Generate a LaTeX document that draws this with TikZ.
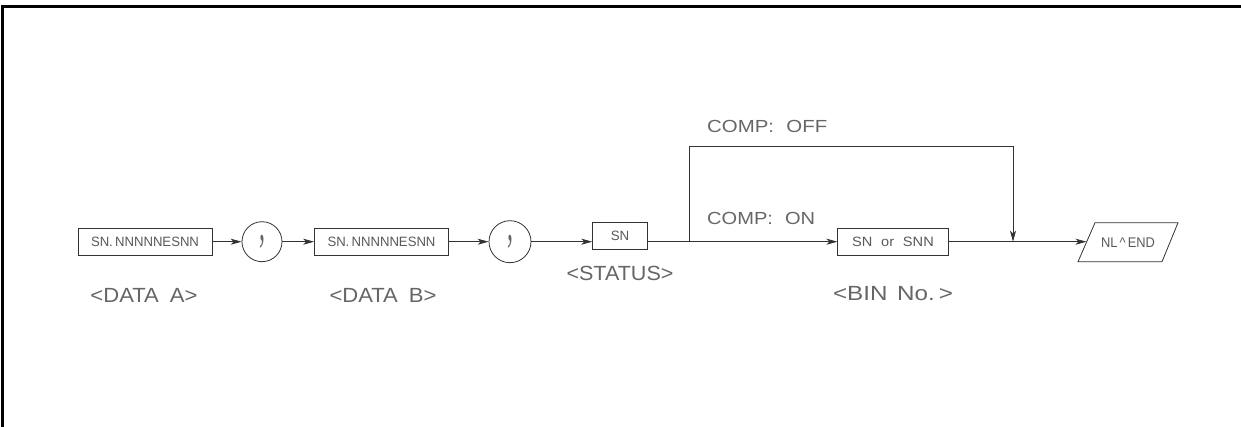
\documentclass[tikz,border=0pt]{standalone}
\usepackage{graphicx}
\usepackage{fontspec}
\setmainfont{Liberation Sans}
\newfontfamily\commafont{Liberation Serif}
\newcommand{\fitw}[2]{\resizebox{#1}{\height}{#2}}
\usetikzlibrary{arrows.meta}
\begin{document}
\begin{tikzpicture}[x=1pt,y=-1pt,
  line/.style={draw=black!80,line width=0.8pt},
  arr/.style={line,-{Stealth[length=11pt,width=6pt,inset=3pt]}},
  box/.style={line,rectangle,inner sep=0pt,font=\fontsize{13.5}{13.5}\selectfont,text=black!65},
  circ/.style={line,circle,inner sep=0pt,font=\commafont\fontsize{34}{34}\selectfont,text=black!60},
  lbl/.style={font=\fontsize{20.5}{20.5}\selectfont,text=black!60,inner sep=0pt},
  comp/.style={font=\fontsize{17.5}{17.5}\selectfont,text=black!60,inner sep=0pt,anchor=west},
]
\useasboundingbox (0,0) rectangle (1241,427);
% frame
\draw[line width=3pt] (2.7,427) -- (2.7,6.7) -- (1241,6.7);

% nodes
\node[box,minimum width=134pt,minimum height=27pt] (a) at (145,241.7) {\fitw{108pt}{SN.\,NNNNNESNN}};
\node[circ,minimum size=40pt] (c1) at (262,241.7) {\scalebox{0.7}[1.5]{,}};
\node[box,minimum width=134pt,minimum height=27pt] (b) at (381.5,241.7) {\fitw{108pt}{SN.\,NNNNNESNN}};
\node[circ,minimum size=42pt] (c2) at (510,241.7) {\scalebox{0.7}[1.5]{,}};
\node[box,minimum width=54.6pt,minimum height=26.6pt] (sn) at (620,236) {\fitw{18.5pt}{SN}};
\node[box,minimum width=110.3pt,minimum height=27.4pt] (bin) at (893,241.7) {\fitw{81.6pt}{SN\hspace{0.6em}or\hspace{0.6em}SNN}};

% end parallelogram
\draw[line] (1095,222.7) -- (1178,222.7) -- (1162,261.7) -- (1078,261.7) -- cycle;
\node[font=\fontsize{14}{14}\selectfont,text=black!65,inner sep=0pt] (endn) at (1128,242.5) {\fitw{54pt}{NL\,\textasciicircum\,END}};
\coordinate (pl) at (1086.5,241.7);

% labels
\node[lbl] (la) at (144,295) {\fitw{107pt}{<DATA\hspace{0.5em}A>}};
\node[lbl] (lb) at (383,295) {\fitw{107pt}{<DATA\hspace{0.5em}B>}};
\node[lbl] (ls) at (620,273) {\fitw{107pt}{<STATUS>}};
\node[lbl] (lbin) at (893,294) {\fitw{120pt}{<BIN\hspace{0.4em}No.\,>}};
\node[comp] (coff) at (707,126) {\fitw{120pt}{COMP:\hspace{0.6em}OFF}};
\node[comp] (con) at (707,218.3) {\fitw{108pt}{COMP:\hspace{0.6em}ON}};

% connectors
\coordinate (br) at (689,241.7);
\coordinate (tl) at (689,146.7);
\coordinate (tr) at (1013,146.7);
\coordinate (mg) at (1013,241.7);

\draw[arr] (a) -- (c1);
\draw[arr] (c1) -- (b);
\draw[arr] (b) -- (c2);
\draw[arr] (c2.east) -- (c2.east -| sn.west);
\draw[line] (c2.east -| sn.east) -- (br);
\draw[arr] (br) -- (bin);
\draw[arr] (br) -- (tl) -- (tr) -- (mg);
\draw[line] (bin) -- (mg);
\draw[arr] (mg) -- (pl);
\end{tikzpicture}
\end{document}
